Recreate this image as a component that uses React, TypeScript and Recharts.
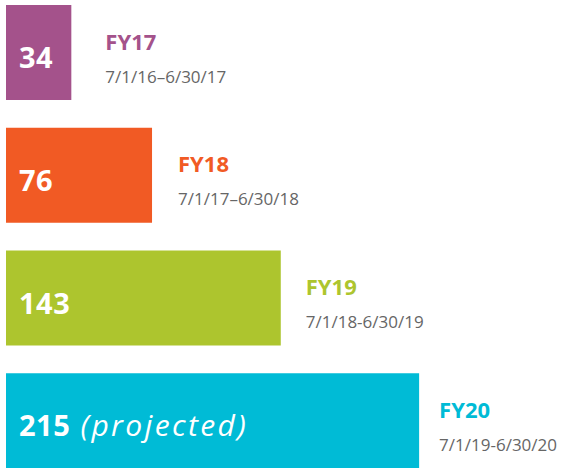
import React from 'react';
import { BarChart, Bar, XAxis, YAxis, Cell, LabelList } from 'recharts';

const YEARS = ['FY17', 'FY18', 'FY19', 'FY20'];
const COUNTS = [34, 76, 143, 215];
const PERIODS = ['7/1/16–6/30/17', '7/1/17–6/30/18', '7/1/18-6/30/19', '7/1/19-6/30/20'];
const NOTES = ['', '', '', '(projected)'];

const COLORS = ['#a4528b', '#f15a24', '#adc52e', '#00bbd6'];
// space between bar end and the year label, per row
const LABEL_GAP = [34, 26, 25, 20];

const FONT = '"Open Sans", sans-serif';

const data = YEARS.map((year, i) => ({
  year,
  count: COUNTS[i],
  period: PERIODS[i],
  note: NOTES[i],
}));

const RowLabel = (props: any) => {
  const { x, y, width, index } = props;
  const row = data[index];
  const right = x + width + LABEL_GAP[index];
  return (
    <g>
      <text x={x + 13} y={y + 63} fill="#fff" fontFamily={FONT} fontSize={29} fontWeight={700} letterSpacing={0.5}>
        {row.count}
        {row.note && (
          <tspan fontSize={30} fontWeight={400} fontStyle="italic" letterSpacing={2.4}>{' ' + row.note}</tspan>
        )}
      </text>
      <text x={right} y={y + 44.5} fill={COLORS[index]} fontFamily={FONT} fontSize={22} fontWeight={700}>
        {row.year}
      </text>
      <text x={right} y={y + 77.5} fill="#666" fontFamily={FONT} fontSize={17}>
        {row.period}
      </text>
    </g>
  );
};

export default function App() {
  return (
    <div style={{ position: 'absolute', left: 0, top: 0, width: 569, height: 468, overflow: 'hidden', background: '#fff' }}>
      <div style={{ position: 'absolute', left: 0, top: -9 }}>
        <BarChart
          width={569}
          height={491}
          data={data}
          layout="vertical"
          margin={{ top: 0, right: 0, bottom: 0, left: 6 }}
          barSize={95}
        >
          <XAxis type="number" hide domain={[0, 293]} />
          <YAxis type="category" dataKey="year" hide />
          <Bar dataKey="count" isAnimationActive={false}>
            {data.map((d, i) => (
              <Cell key={d.year} fill={COLORS[i]} />
            ))}
            <LabelList dataKey="count" content={RowLabel} />
          </Bar>
        </BarChart>
      </div>
    </div>
  );
}
